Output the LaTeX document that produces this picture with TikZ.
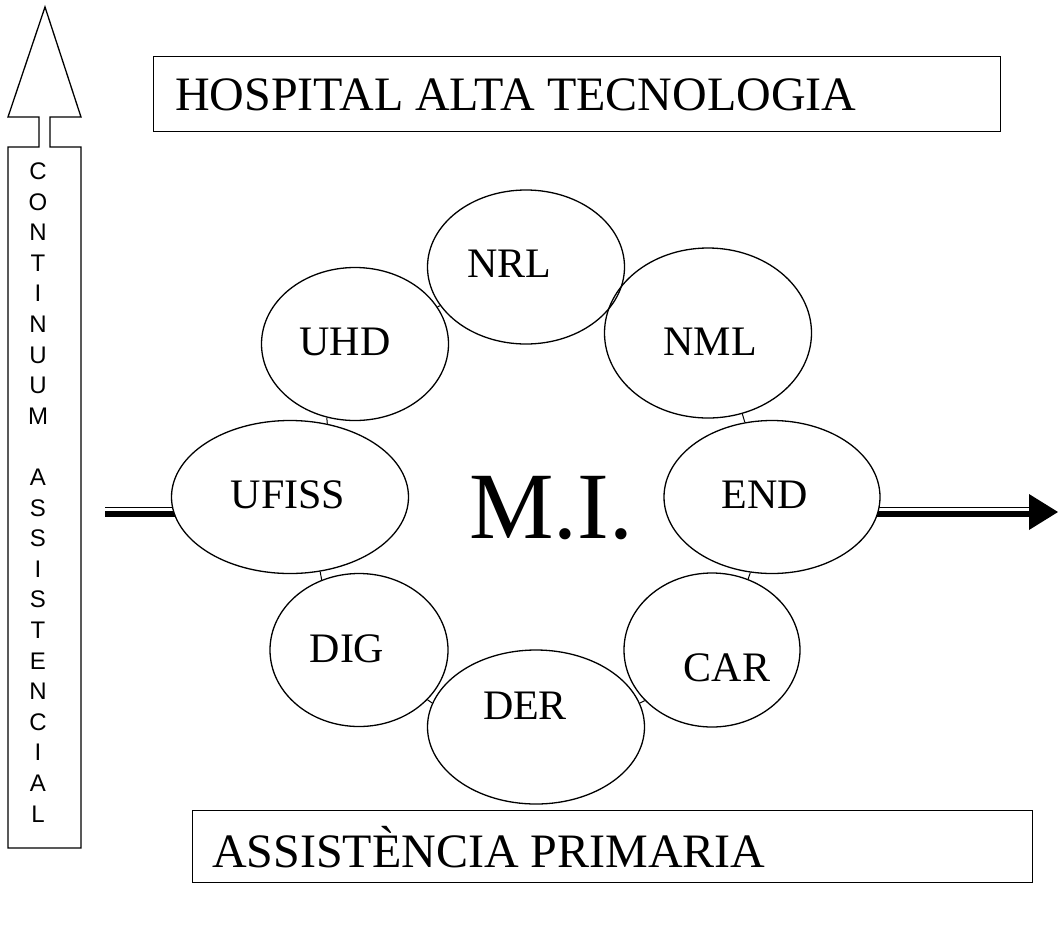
\documentclass[tikz,border=0pt]{standalone}
\usepackage{fontspec}
\setmainfont{Liberation Serif}
\newfontfamily\lettersans{Liberation Sans}
\usetikzlibrary{shapes.geometric,backgrounds}

\begin{document}
\begin{tikzpicture}[x=1pt,y=-1pt,
  bubble/.style={ellipse,draw,line width=1.3pt,fill=white,inner sep=0pt},
  bubtext/.style={anchor=base,inner sep=0pt,font=\fontsize{42}{48}\selectfont},
  link/.style={line width=1pt},
  frame/.style={draw,line width=1.2pt,inner sep=0pt,anchor=north west},
  frametext/.style={anchor=base west,inner sep=0pt,font=\fontsize{48}{56}\selectfont},
  railthin/.style={line width=1.5pt},
  railthick/.style={line width=6pt},
]
\useasboundingbox (0,0) rectangle (1058,938);

% level boxes
\node[frame,minimum width=847pt,minimum height=75pt] (hat) at (153,56) {};
\node[frametext] (hattext) at (175,110) {HOSPITAL ALTA TECNOLOGIA};
\node[frame,minimum width=840pt,minimum height=72pt] (prim) at (192,810) {};
\node[frametext] (primtext) at (212,867) {ASSISTÈNCIA PRIMARIA};

% vertical block arrow with its caption
\draw[line width=1.3pt,line join=miter]
  (45,7) -- (81,117) -- (50,117) -- (50,147) -- (81,147) -- (81,848)
  -- (8,848) -- (8,147) -- (39,147) -- (39,117) -- (8,117) -- cycle;
\node[anchor=north,inner sep=0pt,align=center,
      font=\lettersans\fontsize{24}{30.6}\selectfont] (vtext) at (38,162.5)
  {C\\O\\N\\T\\I\\N\\U\\U\\M\\[30.6pt]A\\S\\S\\I\\S\\T\\E\\N\\C\\I\\A\\L};

% specialty ring (NRL outline is stroked after NML so both rims show where they overlap)
\node[bubble,draw=none,minimum width=197pt,minimum height=154pt] (nrl) at (526,267) {};
\node[bubble,minimum width=187pt,minimum height=153pt] (uhd) at (355,344) {};
\node[bubble,minimum width=207pt,minimum height=170pt] (nml) at (708,333) {};
\draw[line width=1.3pt] (nrl.center) ellipse [x radius=98.5, y radius=77];
\node[bubble,minimum width=237pt,minimum height=153pt] (ufiss) at (290,497) {};
\node[bubble,minimum width=216pt,minimum height=153pt] (endc) at (772,497) {};
\node[bubble,minimum width=178pt,minimum height=153pt] (dig) at (359,650) {};
\node[bubble,minimum width=176pt,minimum height=154pt] (car) at (712,650) {};
\node[bubble,minimum width=217pt,minimum height=154pt] (der) at (536,727) {};

\node[bubtext] (nrlt) at (509,277) {NRL};
\node[bubtext] (uhdt) at (345,355) {UHD};
\node[bubtext] (nmlt) at (710,355) {NML};
\node[bubtext] (ufisst) at (288,508) {UFISS};
\node[bubtext] (endt) at (765,508) {END};
\node[bubtext] (digt) at (347,662) {DIG};
\node[bubtext] (cart) at (727,681) {CAR};
\node[bubtext] (dert) at (525,719) {DER};

\node[anchor=base,inner sep=0pt,font=\fontsize{95}{100}\selectfont] (mi) at (551,538) {M.I.};

% flow in and out, plus the short ties between neighbours
\coordinate (lin) at (105,512);
\coordinate (lend) at (lin -| ufiss.center);
\coordinate (rstart) at (endc.center |- lin);
\coordinate (tip) at (1058,512);
\coordinate (hbase) at (1029,512);
\begin{scope}[on background layer]
  \draw[railthin] ([yshift=4.5pt]lin) -- ([yshift=4.5pt]lend);
  \draw[railthick] ([yshift=-2pt]lin) -- ([yshift=-2pt]lend);
  \draw[railthin] ([yshift=4.5pt]rstart) -- ([yshift=4.5pt]hbase);
  \draw[railthick] ([yshift=-2pt]rstart) -- ([yshift=-2pt]hbase);
  \draw[link] (nrl) -- (uhd);
  \draw[link] (uhd.249) -- (ufiss.63);
  \draw[link] (ufiss.-68) -- (dig.118);
  \draw[link] (dig.-36) -- (der.167);
  \draw[link] (der.13) -- (car.217);
  \draw[link] (car.63) -- (endc.-106);
  \draw[link] (nml.-67) -- (endc.110);
\end{scope}
\fill (tip) -- ([xshift=-29pt,yshift=18pt]tip) -- ([xshift=-29pt,yshift=-18pt]tip) -- cycle;
\end{tikzpicture}
\end{document}
